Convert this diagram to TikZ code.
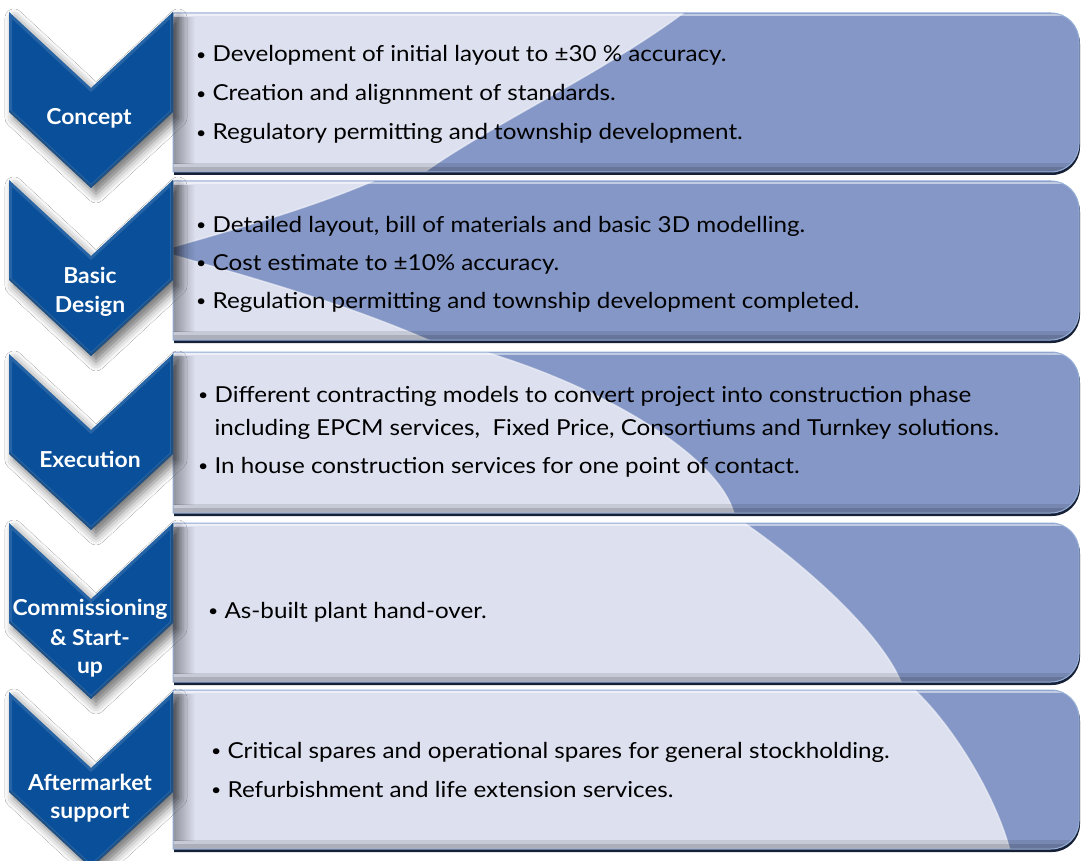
\documentclass[tikz,border=0pt]{standalone}
\usepackage{fontspec}
\setmainfont{Lato}
\newfontfamily\bodyfont{Lato}[FakeStretch=1.1]
\newfontfamily\labelfont{Lato}[FakeStretch=1.04]
\usetikzlibrary{shadows.blur,fadings}
\definecolor{lightp}{RGB}{221,224,239}
\definecolor{darkp}{RGB}{132,151,198}
\definecolor{chev}{RGB}{9,79,153}
\definecolor{pborder}{RGB}{150,175,215}
\definecolor{navy}{RGB}{22,32,55}
\newcommand\bul{\raisebox{1.5pt}{\fontsize{16}{16}\selectfont •}}
\newcommand\panelpath[2]{(173,#1) -- (1051,#1) arc[start angle=-90,end angle=0,radius=28] -- (1079,#2-28) arc[start angle=0,end angle=90,radius=28] -- (173,#2) -- cycle}
\newcommand\chevpath[1]{(9,#1) -- (91,#1+76) -- (173,#1) -- (173,#1+100) -- (91,#1+176) -- (9,#1+100) -- cycle}
\newcommand\mypanel[3]{%
  \fill[navy] [xshift=1pt,yshift=-3pt] \panelpath{#1}{#2};
  \begin{scope}
    \clip \panelpath{#1}{#2};
    \fill[lightp] (173,#1) rectangle (1081,#2);
    #3
    \fill[black,opacity=.22] (173,#2-5) rectangle (1081,#2);
    \fill[black,opacity=.10] (173,#2-9) rectangle (1081,#2-5);
    \draw[white,opacity=.5,line width=2] (173,#1+2) -- (1081,#1+2);
    \fill[black,opacity=.35,path fading=east] (173,#1+4) rectangle (195,#2-8);
  \end{scope}
  \draw[pborder,line width=1] \panelpath{#1}{#2};
}
\newcommand\mychev[1]{%
  \fill[chev,blur shadow={shadow xshift=5pt,shadow yshift=-6pt,shadow blur radius=9pt,shadow opacity=55}] \chevpath{#1};
  \begin{scope}
    \clip \chevpath{#1};
    \draw[white,opacity=.12,line width=6] \chevpath{#1};
    \draw[black,opacity=.2,line width=4] (173,#1) -- (173,#1+100) -- (91,#1+176) -- (9,#1+100);
  \end{scope}
}
\tikzset{
  body/.style={anchor=base west,inner sep=0pt,font=\bodyfont\fontsize{22}{26}\selectfont,text=black},
  lbl/.style={anchor=base,inner sep=0pt,font=\labelfont\fontsize{22}{26}\selectfont\bfseries,text=white},
  edge hl/.style={white,opacity=.55,line width=1.3},
}
\begin{document}
\begin{tikzpicture}[x=1pt,y=-1pt]
\useasboundingbox (0,0) rectangle (1081,861);
\fill[white] (0,0) rectangle (1081,861);

% panel 1
\mypanel{13}{172}{%
  \fill[darkp] (690,8) .. controls (610,70) and (480,130) .. (418,177) -- (1090,177) -- (1090,8) -- cycle;
  \draw[edge hl] (690,8) .. controls (610,70) and (480,130) .. (418,177);
}
% panel 2
\mypanel{181}{340}{%
  \fill[darkp] (173,247) .. controls (250,225) and (320,205) .. (385,176) -- (1090,176) -- (1090,345) -- (440,345) .. controls (350,305) and (260,280) .. (173,255) -- cycle;
  \draw[edge hl] (173,247) .. controls (250,225) and (320,205) .. (385,176);
  \draw[edge hl] (440,345) .. controls (350,305) and (260,280) .. (173,255);
}
% panel 3
\mypanel{352}{513}{%
  \fill[darkp] (468,347) .. controls (605,385) and (725,460) .. (735,518) -- (1090,518) -- (1090,347) -- cycle;
  \draw[edge hl] (468,347) .. controls (605,385) and (725,460) .. (735,518);
}
% panel 4
\mypanel{523}{682}{%
  \fill[darkp] (737,518) .. controls (800,560) and (885,635) .. (903,687) -- (1090,687) -- (1090,518) -- cycle;
  \draw[edge hl] (737,518) .. controls (800,560) and (885,635) .. (903,687);
}
% panel 5
\mypanel{690}{849}{%
  \fill[darkp] (909,685) .. controls (945,715) and (995,790) .. (1011,854) -- (1090,854) -- (1090,685) -- cycle;
  \draw[edge hl] (909,685) .. controls (945,715) and (995,790) .. (1011,854);
}

% chevrons
\mychev{12}
\mychev{180}
\mychev{354}
\mychev{523}
\mychev{692}

% chevron labels
\node[lbl] (c1) at (89,125) {Concept};
\node[lbl] (c2a) at (90,283) {Basic};
\node[lbl] (c2b) at (90,312) {Design};
\node[lbl] (c3) at (90,467) {Execution};
\node[lbl] (c4a) at (90,615) {Commissioning};
\node[lbl] (c4b) at (90,645) {\& Start-};
\node[lbl] (c4c) at (90,673) {up};
\node[lbl] (c5a) at (90,790) {Aftermarket};
\node[lbl] (c5b) at (90,818) {support};

% body text
\node[body] (t11) at (196,62) {\bul\ Development of initial layout to ±30 \% accuracy.};
\node[body] (t12) at (196,101) {\bul\ Creation and alignnment of standards.};
\node[body] (t13) at (196,140) {\bul\ Regulatory permitting and township development.};
\node[body] (t21) at (196,232) {\bul\ Detailed layout, bill of materials and basic 3D modelling.};
\node[body] (t22) at (196,270) {\bul\ Cost estimate to ±10\% accuracy.};
\node[body] (t23) at (196,308) {\bul\ Regulation permitting and township development completed.};
\node[body] (t31) at (198,402) {\bul\ Different contracting models to convert project into construction phase};
\node[body] (t32) at (198,435) {\phantom{\bul\ }including EPCM services,\ \ Fixed Price, Consortiums and Turnkey solutions.};
\node[body] (t33) at (198,473) {\bul\ In house construction services for one point of contact.};
\node[body] (t41) at (208,618) {\bul\ As-built plant hand-over.};
\node[body] (t51) at (211,758) {\bul\ Critical spares and operational spares for general stockholding.};
\node[body] (t52) at (211,797) {\bul\ Refurbishment and life extension services.};
\end{tikzpicture}
\end{document}
